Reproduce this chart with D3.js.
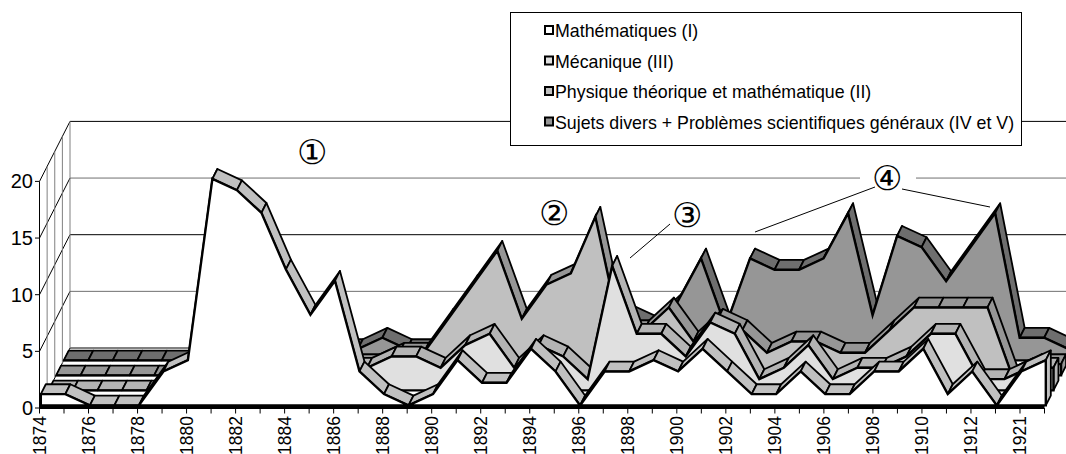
<!DOCTYPE html>
<html><head><meta charset="utf-8">
<script src="https://cdn.jsdelivr.net/npm/d3@7/dist/d3.min.js"></script>
<style>body{margin:0;background:#fff}svg{display:block}text{font-family:"Liberation Sans",Arial,sans-serif}</style>
</head><body>
<svg id="chart" width="1066" height="454"></svg>
<script>
const categories = ["1874","1875","1876","1877","1878","1879","1880","1881","1882","1883","1884","1885","1886","1887","1888","1889","1890","1891","1892","1893","1894","1895","1896","1897","1898","1899","1900","1901","1902","1903","1904","1905","1906","1907","1908","1909","1910","1911","1912","1913","1921","s.d."];
const mathematiques = [1,1,0,0,0,3,4,20,19,17,12,8,11,3,1,0,1,4,2,2,5,3,0,3,3,4,3,5,3,1,1,3,1,1,3,3,5,1,3,0,3,4];
const mecanique     = [0,0,0,0,0,0,1,2,2,2,2,2,2,2,3,3,2,4,5,2,4,3,1,11,5,5,3,6,5,1,2,4,1,2,2,3,5,5,1,1,2,2];
const physique      = [0,0,0,0,0,0,1,1,1,1,1,1,1,1,2,2,5,8,11,5,8,9,14,4,4,6,3,5,4,2,3,3,2,2,4,6,6,6,6,0,1,1];
const sujetsDivers  = [0,0,0,0,0,0,1,1,1,1,1,1,1,2,1,1,2,2,3,3,3,3,3,4,3,5,9,3,9,8,8,9,13,4,11,10,7,10,13,2,2,1];
const seriesNames = ["Mathématiques (I)","Mécanique (III)","Physique théorique et mathématique (II)","Sujets divers + Problèmes scientifiques généraux (IV et V)"];
const frontColors = ["#ffffff","#e0e0e0","#c0c0c0","#969696"];
const topColors   = ["#c0c0c0","#b4b4b4","#969696","#6e6e6e"];
const yTicks = [0,5,10,15,20];
const annotationLabels = ["①","②","③","④"];

const W = 1066, H = 454;
const svg = d3.select("#chart");
const x = d3.scalePoint().domain(categories).range([39.5, 1044.5]);
const y = d3.scaleLinear().domain([0, 20]).range([408, 181.4]);
const DX = 30.5, DY = 60, GAP = 0.172;
const P = (c, v, d) => [x(c) + d * DX, y(v) - d * DY];
const first = categories[0], last = categories[categories.length - 1];

// walls
const g = svg.append("g");
yTicks.forEach((t, k) => {
  const b = P(first, t, 1);
  g.append("line").attr("x1", b[0]).attr("y1", b[1]).attr("x2", W).attr("y2", b[1])
    .attr("stroke", k % 2 === 1 ? "#707070" : "#000").attr("stroke-width", 1);
  const f = P(first, t, 0);
  g.append("line").attr("x1", f[0]).attr("y1", f[1]).attr("x2", b[0]).attr("y2", b[1]).attr("stroke", "#000").attr("stroke-width", 1);
});
[0.25, 0.5, 0.75, 1].forEach(d => {
  const a = P(first, 0, d), b = P(first, 20, d);
  g.append("line").attr("x1", a[0]).attr("y1", a[1]).attr("x2", b[0]).attr("y2", b[1]).attr("stroke", "#808080").attr("stroke-width", 1);
});
{
  const a = P(first, 0, 0), b = P(first, 20, 0);
  g.append("line").attr("x1", a[0]).attr("y1", a[1]).attr("x2", b[0]).attr("y2", b[1]).attr("stroke", "#000").attr("stroke-width", 1);
}

// series, back to front
const allSeries = [mathematiques, mecanique, physique, sujetsDivers];
const line = d3.line();
for (let s = 3; s >= 0; s--) {
  const vals = allSeries[s];
  const fd = (s + GAP) / 4, bd = (s + 1 - GAP) / 4;
  const sg = svg.append("g");
  for (let i = 0; i < categories.length - 1; i++) {
    const c0 = categories[i], c1 = categories[i + 1];
    const pts = [P(c0, vals[i], fd), P(c1, vals[i + 1], fd), P(c1, vals[i + 1], bd), P(c0, vals[i], bd)];
    sg.append("path").attr("d", line(pts) + "Z").attr("fill", topColors[s]).attr("stroke", "#000").attr("stroke-width", 1.8).attr("stroke-linejoin", "round");
  }
  const vl = vals[vals.length - 1];
  const endPts = [P(last, 0, fd), P(last, vl, fd), P(last, vl, bd), P(last, 0, bd)];
  sg.append("path").attr("d", line(endPts) + "Z").attr("fill", topColors[s]).attr("stroke", "#000").attr("stroke-width", 1.8);
  const frontPts = categories.map((c, i) => P(c, vals[i], fd));
  frontPts.push(P(last, 0, fd), P(first, 0, fd));
  sg.append("path").attr("d", line(frontPts) + "Z").attr("fill", frontColors[s]).attr("stroke", "#000").attr("stroke-width", 2.4).attr("stroke-linejoin", "miter").attr("stroke-miterlimit", 6);
}

// category axis
const ax = svg.append("g");
ax.append("line").attr("x1", x(first)).attr("x2", x(last)).attr("y1", 407.5).attr("y2", 407.5).attr("stroke", "#000").attr("stroke-width", 3);
categories.forEach((c, i) => {
  ax.append("line").attr("x1", x(c)).attr("x2", x(c)).attr("y1", 408).attr("y2", 413.5).attr("stroke", "#000").attr("stroke-width", 1);
  if (i % 2 === 0) {
    ax.append("text").attr("transform", `translate(${x(c)},416) rotate(-90)`).attr("text-anchor", "end").attr("dominant-baseline", "central").attr("font-size", 17.5).text(c);
  }
});
// value axis
yTicks.forEach(t => {
  ax.append("line").attr("x1", 35).attr("x2", x(first)).attr("y1", y(t)).attr("y2", y(t)).attr("stroke", "#000").attr("stroke-width", 1);
  ax.append("text").attr("x", 33).attr("y", y(t)).attr("text-anchor", "end").attr("dominant-baseline", "central").attr("font-size", 20).text(t);
});

// annotations
const ann = svg.append("g");
const annPos = [[312, 152], [554, 213], [687, 215], [887, 178]];
ann.append("rect").attr("x", 860).attr("y", 164).attr("width", 56).attr("height", 28).attr("fill", "#fff");
[[670, 224, 630, 258], [875, 187, 755, 232], [902, 189, 990, 207]].forEach(l => {
  ann.append("line").attr("x1", l[0]).attr("y1", l[1]).attr("x2", l[2]).attr("y2", l[3]).attr("stroke", "#000").attr("stroke-width", 1);
});
annotationLabels.forEach((a, i) => {
  ann.append("text").attr("x", annPos[i][0]).attr("y", annPos[i][1]).attr("text-anchor", "middle").attr("dominant-baseline", "central").attr("font-family", "Noto Sans CJK JP").attr("font-size", 34).text(a);
});

// legend
const lg = svg.append("g");
lg.append("rect").attr("x", 510.5).attr("y", 12.5).attr("width", 511).attr("height", 133).attr("fill", "#fff").attr("stroke", "#000").attr("stroke-width", 1);
seriesNames.forEach((n, i) => {
  const cy = 31 + i * 30.5;
  lg.append("rect").attr("x", 545).attr("y", cy - 5).attr("width", 8).attr("height", 8).attr("fill", frontColors[i]).attr("stroke", "#000").attr("stroke-width", 2);
  lg.append("text").attr("x", 555).attr("y", cy).attr("dominant-baseline", "central").attr("font-size", 17.8).text(n);
});
</script>
</body></html>
